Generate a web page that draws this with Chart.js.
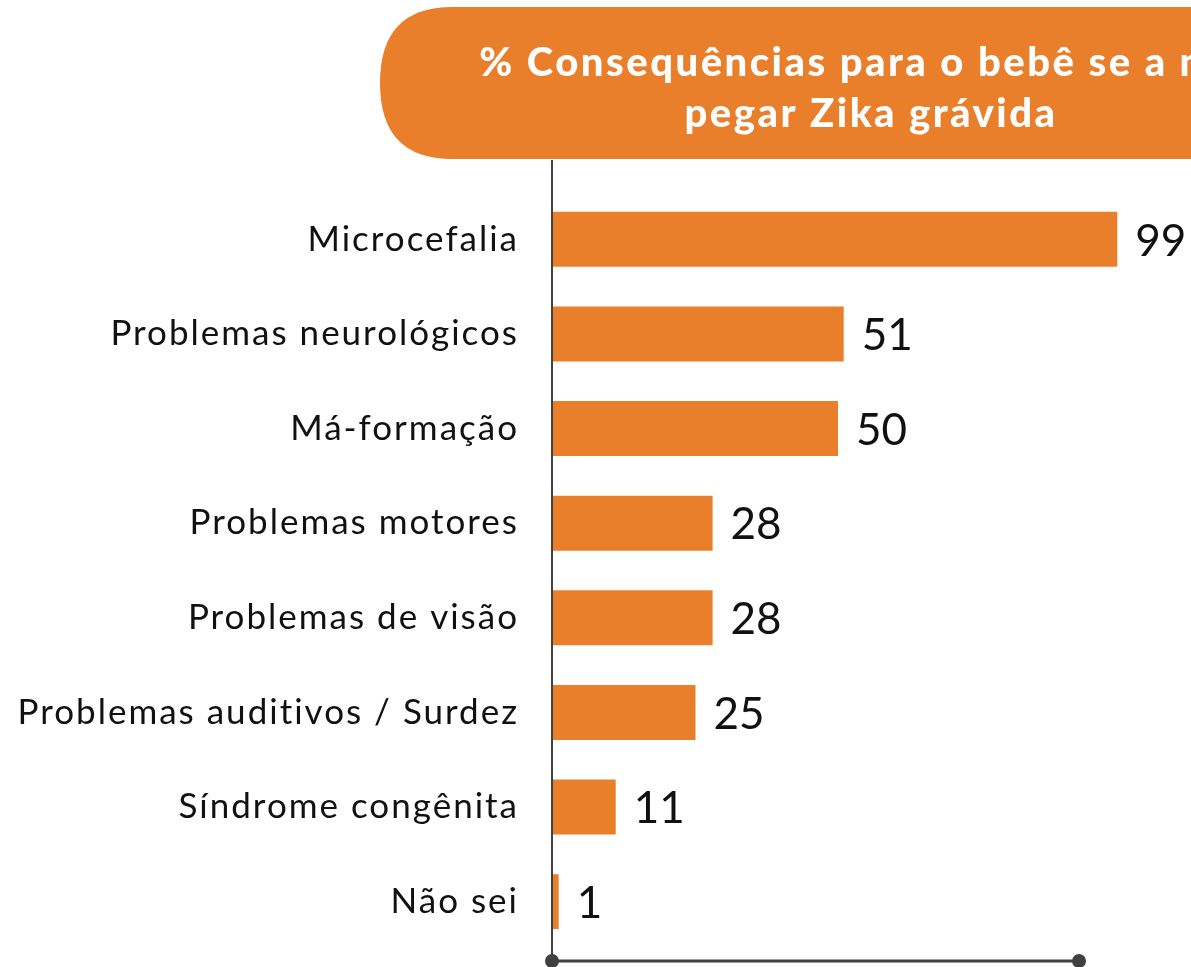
<!DOCTYPE html>
<html>
<head>
<meta charset="utf-8">
<script src="https://cdn.jsdelivr.net/npm/chart.js@4/dist/chart.umd.min.js"></script>
<style>
  html, body { margin: 0; padding: 0; background: #fff; }
  #wrap { width: 1191px; height: 967px; position: relative; }
</style>
</head>
<body>
<div id="wrap"><canvas id="chart"></canvas></div>
<script>
const categories = [
    'Microcefalia',
    'Problemas neurológicos',
    'Má-formação',
    'Problemas motores',
    'Problemas de visão',
    'Problemas auditivos / Surdez',
    'Síndrome congênita',
    'Não sei'
];
const values = [99, 51, 50, 28, 28, 25, 11, 1];
const titleLines = ['% Consequências para o bebê se a mãe', 'pegar Zika grávida'];

const ORANGE = '#EA7F2B';
const AXIS = '#404040';

// orange pill header with the title
const headerPlugin = {
    id: 'header',
    beforeDraw(chart) {
        const ctx = chart.ctx;
        const x = 380, y = 7, h = 152, r = 72;
        const w = chart.width - x + 40;
        ctx.save();
        ctx.fillStyle = ORANGE;
        ctx.beginPath();
        ctx.moveTo(x + r, y);
        ctx.lineTo(x + w, y);
        ctx.lineTo(x + w, y + h);
        ctx.lineTo(x + r, y + h);
        ctx.quadraticCurveTo(x, y + h, x, y + h / 2);
        ctx.quadraticCurveTo(x, y, x + r, y);
        ctx.closePath();
        ctx.fill();
        ctx.fillStyle = '#fff';
        ctx.font = '900 40px Lato';
        ctx.letterSpacing = '2.5px';
        ctx.textAlign = 'center';
        ctx.textBaseline = 'alphabetic';
        ctx.fillText(titleLines[0], 871, 76);
        ctx.fillText(titleLines[1], 871, 127);
        ctx.restore();
        // wider spacing for the category labels (futura-like look)
        ctx.letterSpacing = '2px';
    },
    beforeDatasetsDraw(chart) {
        chart.ctx.letterSpacing = '0px';
    }
};

// axis lines with round end dots
const axisPlugin = {
    id: 'axisLines',
    afterDatasetsDraw(chart) {
        const ctx = chart.ctx;
        const left = chart.chartArea.left - 1;
        const bottomY = 961;
        const endX = 1079;
        ctx.save();
        ctx.strokeStyle = AXIS;
        ctx.lineWidth = 2;
        ctx.beginPath();
        ctx.moveTo(left, 160);
        ctx.lineTo(left, bottomY);
        ctx.stroke();
        ctx.lineWidth = 3;
        ctx.beginPath();
        ctx.moveTo(left, bottomY);
        ctx.lineTo(endX, bottomY);
        ctx.stroke();
        ctx.fillStyle = AXIS;
        [left, endX].forEach(px => {
            ctx.beginPath();
            ctx.arc(px, bottomY, 7, 0, Math.PI * 2);
            ctx.fill();
        });
        ctx.restore();
    }
};

// value labels at the end of each bar
const valueLabels = {
    id: 'valueLabels',
    afterDatasetsDraw(chart) {
        const ctx = chart.ctx;
        const meta = chart.getDatasetMeta(0);
        ctx.save();
        ctx.fillStyle = '#111';
        ctx.font = '44px Lato';
        ctx.textAlign = 'left';
        ctx.textBaseline = 'middle';
        meta.data.forEach((bar, i) => {
            ctx.fillText(String(values[i]), bar.x + 18, bar.y + 2);
        });
        ctx.restore();
    }
};

new Chart(document.getElementById('chart'), {
    type: 'bar',
    data: {
        labels: categories,
        datasets: [{
            data: values,
            backgroundColor: ORANGE,
            borderWidth: 0,
            categoryPercentage: 0.58,
            barPercentage: 1
        }]
    },
    options: {
        indexAxis: 'y',
        responsive: true,
        maintainAspectRatio: false,
        animation: false,
        layout: { padding: { top: 192, bottom: 18, right: 68, left: 0 } },
        plugins: {
            legend: { display: false },
            tooltip: { enabled: false },
            title: { display: false }
        },
        scales: {
            x: {
                display: false,
                min: 0,
                max: 100
            },
            y: {
                afterFit(scale) {
                    scale.width = 553;
                    scale.paddingTop = 0;
                    scale.paddingBottom = 0;
                },
                grid: { display: false, drawTicks: false },
                border: { display: false },
                ticks: {
                    padding: 34,
                    color: '#111',
                    font: { family: 'Lato', size: 35 }
                }
            }
        }
    },
    plugins: [headerPlugin, axisPlugin, valueLabels]
});
</script>
</body>
</html>
